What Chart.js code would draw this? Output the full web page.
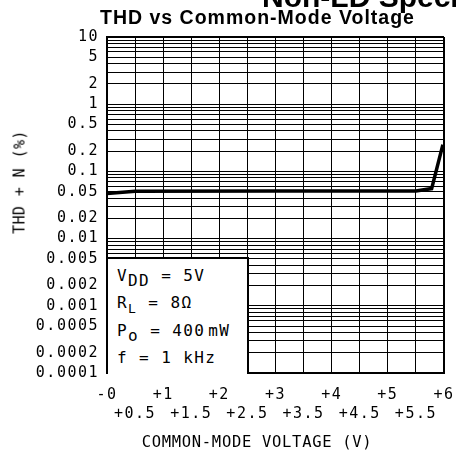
<!DOCTYPE html>
<html><head><meta charset="utf-8">
<script src="https://cdn.jsdelivr.net/npm/chart.js@4.4.0/dist/chart.umd.min.js"></script>
<style>
html,body{margin:0;padding:0;background:#fff;}
#wrap{position:relative;width:456px;height:474px;overflow:hidden;background:#fff;}
#c{position:absolute;left:0;top:0;}
.t{position:absolute;white-space:pre;color:#000;}
.mono{font-family:"DejaVu Sans Mono",monospace;}
#sup{left:262px;top:-18.4px;font:bold 30px/30px "Liberation Sans",Arial,sans-serif;}
#title{left:100px;top:7.3px;font:bold 19.5px/20px "Liberation Sans",Arial,sans-serif;letter-spacing:1px;}
#ytitle{left:20px;top:182px;font-size:15px;line-height:15px;letter-spacing:0.4px;transform:translate(-50%,-50%) rotate(-90deg);}
#xtitle{left:257px;top:442px;font-size:15.5px;line-height:15px;letter-spacing:0.7px;transform:translate(-50%,-50%);}
#box{position:absolute;left:108px;top:257px;width:139px;height:115px;background:#fff;border-top:2px solid #000;border-right:2px solid #000;}
.row{position:absolute;left:117px;font-size:16px;line-height:16px;letter-spacing:1.4px;}
.sub{position:relative;top:5px;}
.subs{position:relative;top:5px;font-size:13px;}
</style></head>
<body><div id="wrap">
<canvas id="c" width="456" height="474"></canvas>
<div class="t" id="sup">Non-LD Specific</div>
<div class="t" id="title">THD vs Common-Mode Voltage</div>
<div class="t mono" id="ytitle">THD + N (%)</div>
<div class="t mono" id="xtitle">COMMON-MODE VOLTAGE (V)</div>
<div id="box"></div>
<div class="t mono row" style="top:267.5px">V<span class="sub">DD</span> = 5V</div>
<div class="t mono row" style="top:295px">R<span class="subs">L</span> = 8Ω</div>
<div class="t mono row" style="top:322.5px">P<span class="sub">o</span> = 400<span style="margin-left:3px"></span>mW</div>
<div class="t mono row" style="top:349.5px">f = 1 kHz</div>
</div>
<script>
// ---- data ----
const voltage = [0, 0.5, 3, 5.5, 5.78, 5.98];
const thdN    = [0.047, 0.0505, 0.051, 0.051, 0.0555, 0.25];

const xTickMain = ['-0', '+1', '+2', '+3', '+4', '+5', '+6'];
const xTickHalf = ['+0.5', '+1.5', '+2.5', '+3.5', '+4.5', '+5.5'];

const yLabelValues = [10, 5, 2, 1, 0.5, 0.2, 0.1, 0.05, 0.02, 0.01, 0.005, 0.002, 0.001, 0.0005, 0.0002, 0.0001];
const yLabelTexts  = ['10', '5', '2', '1', '0.5', '0.2', '0.1', '0.05', '0.02', '0.01', '0.005', '0.002', '0.001', '0.0005', '0.0002', '0.0001'];

const yDecades = [0.0001, 0.001, 0.01, 0.1, 1];
const yMultiples = [1, 2, 3, 4, 5, 6, 7, 8, 9];
const yMin = 0.0001, yMax = 10;
const xMin = 0, xMax = 6, xStep = 0.5;

// ---- chart ----
const gridTicks = [];
yDecades.forEach(d => yMultiples.forEach(m => gridTicks.push(Number((d * m).toPrecision(6)))));
gridTicks.push(yMax);

const spacing = {
  id: 'spacing',
  beforeLayout(chart) { chart.ctx.letterSpacing = '1.5px'; },
  beforeDraw(chart) { chart.ctx.letterSpacing = '1.5px'; },
  afterDraw(chart) { chart.ctx.letterSpacing = '0px'; }
};

const tickFont = { family: '"DejaVu Sans Mono", monospace', size: 15, lineHeight: 1.27 };

new Chart(document.getElementById('c'), {
  type: 'line',
  data: {
    datasets: [{
      data: voltage.map((v, i) => ({ x: v, y: thdN[i] })),
      borderColor: '#000',
      borderWidth: 3.5,
      pointRadius: 0,
      tension: 0,
      fill: false
    }]
  },
  options: {
    responsive: false,
    animation: false,
    devicePixelRatio: 1,
    layout: { padding: { top: 37, right: 12, left: 0, bottom: 0 } },
    plugins: { legend: { display: false }, title: { display: false }, tooltip: { enabled: false } },
    scales: {
      x: {
        type: 'linear', min: xMin, max: xMax,
        afterFit(s) { s.height = 101; s.paddingRight = 0; s.paddingLeft = 0; },
        border: { display: true, color: '#000', width: 2 },
        grid: {
          color: '#000', drawTicks: false,
          lineWidth: c => (c.tick && c.tick.value === xMax) ? 2 : 1
        },
        ticks: {
          stepSize: xStep, autoSkip: false, maxRotation: 0, padding: 12.5,
          color: '#000', font: tickFont,
          callback: v => Number.isInteger(v) ? xTickMain[v] : ['', xTickHalf[Math.floor(v)]]
        }
      },
      y: {
        type: 'logarithmic', min: yMin, max: yMax,
        afterFit(s) { s.width = 107; s.paddingTop = 0; s.paddingBottom = 0; },
        afterBuildTicks(s) { s.ticks = gridTicks.map(v => ({ value: v })); },
        border: { display: true, color: '#000', width: 2 },
        grid: {
          color: '#000', drawTicks: false,
          lineWidth: c => (c.tick && c.tick.value === yMax) ? 2 : 1
        },
        ticks: {
          autoSkip: false, padding: 8, color: '#000', font: tickFont,
          callback: v => {
            const i = yLabelValues.findIndex(t => Math.abs(t - v) / t < 1e-6);
            return i >= 0 ? yLabelTexts[i] : '';
          }
        }
      }
    }
  },
  plugins: [spacing]
});
</script>
</body></html>
